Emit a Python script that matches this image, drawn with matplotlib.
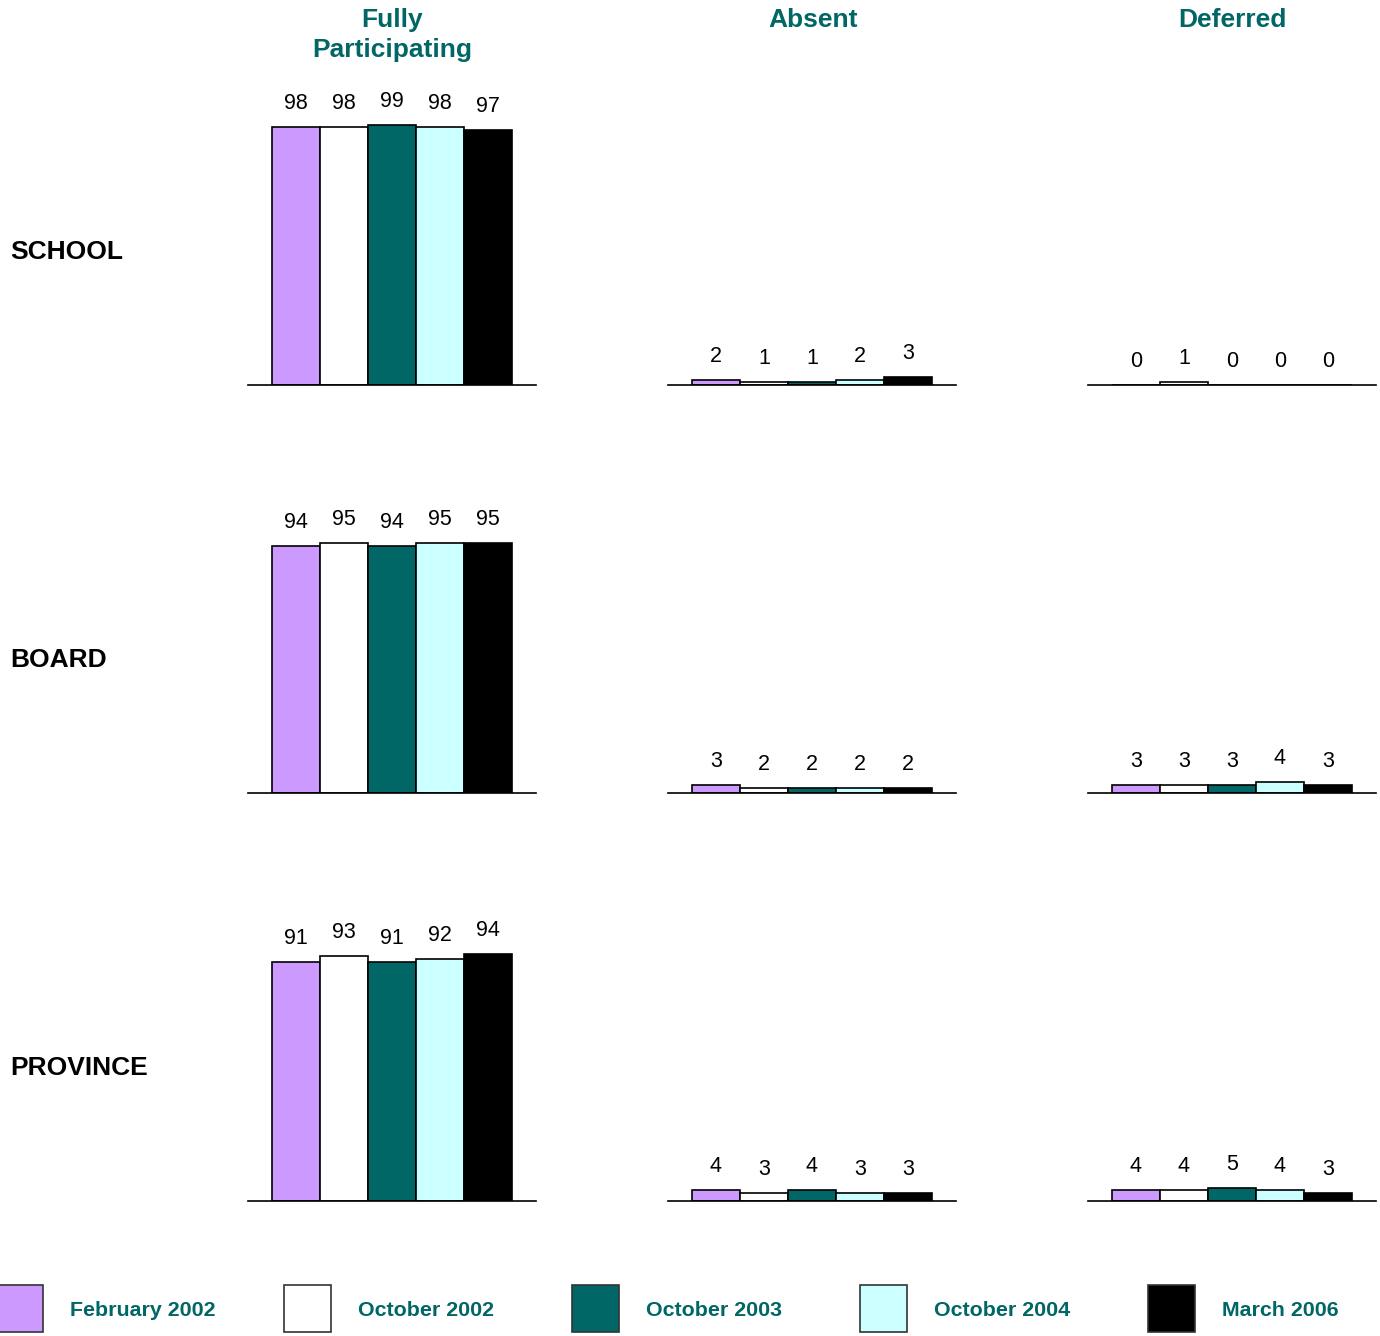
import matplotlib.pyplot as plt
from matplotlib.patches import Rectangle

plt.rcParams['font.family'] = ['Liberation Sans', 'DejaVu Sans']

W, H = 1380, 1336

periods = ['February 2002', 'October 2002', 'October 2003', 'October 2004', 'March 2006']
colors = ['#cc99ff', '#ffffff', '#006666', '#ccffff', '#000000']
columns = ['Fully\nParticipating', 'Absent', 'Deferred']
rows = ['SCHOOL', 'BOARD', 'PROVINCE']

# values per row, per column (in order of periods)
school_full = [98, 98, 99, 98, 97]
school_absent = [2, 1, 1, 2, 3]
school_deferred = [0, 1, 0, 0, 0]
board_full = [94, 95, 94, 95, 95]
board_absent = [3, 2, 2, 2, 2]
board_deferred = [3, 3, 3, 4, 3]
province_full = [91, 93, 91, 92, 94]
province_absent = [4, 3, 4, 3, 3]
province_deferred = [4, 4, 5, 4, 3]

data = [
    [school_full, school_absent, school_deferred],
    [board_full, board_absent, board_deferred],
    [province_full, province_absent, province_deferred],
]

teal = '#006666'
fig = plt.figure(figsize=(W / 100, H / 100), dpi=100)

col_left = [248, 668, 1088]
baselines = [385, 793, 1201]
ax_w, ax_h = 288, 263

def box(x, y_top, w, h):
    # pixel box (top-left origin) -> figure fraction
    return [x / W, 1 - (y_top + h) / H, w / W, h / H]

for r, base in enumerate(baselines):
    for c, left in enumerate(col_left):
        ax = fig.add_axes(box(left, base - ax_h, ax_w, ax_h))
        vals = data[r][c]
        xs = range(len(vals))
        ax.bar(xs, vals, width=1.0, color=colors, edgecolor='black', linewidth=1.2)
        for x, v in zip(xs, vals):
            ax.annotate(str(v), (x, v), xytext=(0, 17), textcoords='offset points',
                        ha='center', va='center', fontsize=15.5, color='black')
        ax.set_xlim(-1, 5)
        ax.set_ylim(0, 100)
        ax.axhline(0, color='black', linewidth=1.2, clip_on=False)
        ax.axis('off')
    fig.text(10 / W, 1 - (base - 133) / H, rows[r], fontsize=19, fontweight='bold',
             ha='left', va='center')

title_x = [392, 813, 1232]
for t, x in zip(columns, title_x):
    fig.text(x / W, 1 - 8 / H, t, fontsize=19, fontweight='bold', color=teal,
             ha='center', va='top', linespacing=1.32)

# legend along the bottom
leg_x = [-4, 284, 572, 860, 1148]
for x, p, col in zip(leg_x, periods, colors):
    fig.patches.append(Rectangle((x / W, 1 - 1332 / H), 47 / W, 47 / H,
                                 transform=fig.transFigure, facecolor=col,
                                 edgecolor='#333333', linewidth=1.2))
    fig.text((x + 74) / W, 1 - 1310 / H, p, fontsize=15.4, fontweight='bold',
             color=teal, ha='left', va='center')

fig.savefig('out.png', dpi=100, facecolor='white')
